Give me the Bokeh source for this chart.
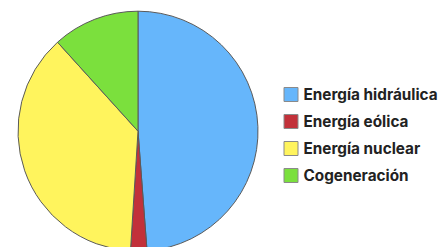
import math
from bokeh.plotting import figure
from bokeh.models import ColumnDataSource
from bokeh.core.properties import value
from bokeh.embed import file_html
from bokeh.resources import INLINE

categories = ["Energía hidráulica", "Energía eólica", "Energía nuclear", "Cogeneración"]
shares = [48.8, 2.2, 37.3, 11.7]
colors = ["#66B6FB", "#C2313A", "#FFF45D", "#7BE03D"]

W, H = 442, 247
p = figure(width=W, height=H, x_range=(0, W), y_range=(0, H),
           output_backend="svg", toolbar_location=None, min_border=0)
p.axis.visible = False
p.grid.visible = False
p.outline_line_color = None
p.background_fill_color = "white"
p.border_fill_color = "white"

cx, cy, r = 137.5, 116.3, 120
total = sum(shares)
starts, ends = [], []
acc = 0.0
for s in shares:
    # clockwise from 12 o'clock
    a0 = math.pi / 2 - acc / total * 2 * math.pi
    acc += s
    a1 = math.pi / 2 - acc / total * 2 * math.pi
    starts.append(a1)
    ends.append(a0)

src = ColumnDataSource(dict(start=starts, end=ends, color=colors, name=categories))
p.wedge(x=cx, y=cy, radius=r, start_angle="start", end_angle="end",
        fill_color="color", line_color="#5a5a5a", line_width=1, source=src)

ly = [153 - 27 * i for i in range(len(categories))]
leg = ColumnDataSource(dict(x=[290.5] * 4, y=ly, tx=[303] * 4, color=colors, name=categories))
p.rect(x="x", y="y", width=14, height=14, fill_color="color", line_color="#8a8a8a",
       line_width=1, source=leg)
p.text(x="tx", y="y", text="name", source=leg, text_font=value("Inter"),
       text_font_size="15.3px", text_font_style="bold", text_color="#222222",
       text_baseline="middle", text_align="left")

open("out.html", "w").write(file_html(p, INLINE))
